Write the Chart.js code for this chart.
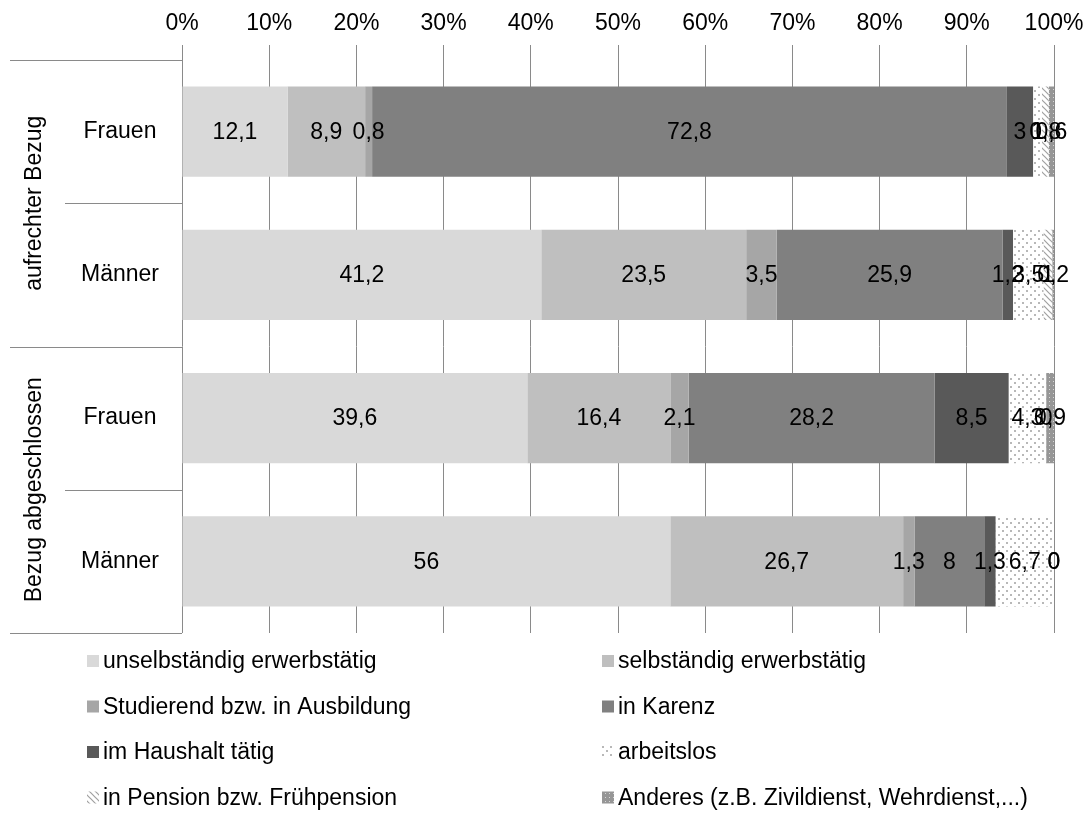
<!DOCTYPE html>
<html>
<head>
<meta charset="utf-8">
<script src="https://cdn.jsdelivr.net/npm/chart.js@4/dist/chart.umd.min.js"></script>
<style>
  body { margin: 0; background: #fff; }
</style>
</head>
<body>
<canvas id="chart" width="1090" height="814"></canvas>
<script>
// categories (grouped two levels)
const groups = ['aufrechter Bezug', 'Bezug abgeschlossen'];
const categories = ['Frauen', 'Männer', 'Frauen', 'Männer'];
const seriesNames = [
  'unselbständig erwerbstätig',
  'selbständig erwerbstätig',
  'Studierend bzw. in Ausbildung',
  'in Karenz',
  'im Haushalt tätig',
  'arbeitslos',
  'in Pension bzw. Frühpension',
  'Anderes (z.B. Zivildienst, Wehrdienst,...)'
];
const unselbstaendig = [12.1, 41.2, 39.6, 56];
const selbstaendig   = [8.9, 23.5, 16.4, 26.7];
const studierend     = [0.8, 3.5, 2.1, 1.3];
const karenz         = [72.8, 25.9, 28.2, 8];
const haushalt       = [3, 1.2, 8.5, 1.3];
const arbeitslos     = [1.0, 3.5, 4.3, 6.7];
const pension        = [0.8, 1.0, 0, 0];
const anderes        = [0.6, 0.2, 0.9, 0];
const tickValues = [0, 10, 20, 30, 40, 50, 60, 70, 80, 90, 100];

const FONT = '"Liberation Sans", Arial, sans-serif';
const FS = 23;
const gridGray = '#8a8a8a';

function makePattern(size, draw) {
  const c = document.createElement('canvas');
  c.width = size; c.height = size;
  draw(c.getContext('2d'), size);
  return c.getContext('2d').createPattern(c, 'repeat');
}

const dotsPattern = makePattern(8, (g) => {
  g.fillStyle = '#fff'; g.fillRect(0, 0, 8, 8);
  g.fillStyle = '#b8b8b8';
  g.fillRect(2, 2, 2, 2);
  g.fillRect(6, 6, 2, 2);
});
const hatchPattern = makePattern(6, (g) => {
  g.fillStyle = '#fff'; g.fillRect(0, 0, 6, 6);
  g.strokeStyle = '#a0a0a0'; g.lineWidth = 1.2;
  g.beginPath();
  g.moveTo(-1, -1); g.lineTo(7, 7);
  g.moveTo(-1, 5); g.lineTo(1, 7);
  g.moveTo(5, -1); g.lineTo(7, 1);
  g.stroke();
});
const grayDotsPattern = makePattern(4, (g) => {
  g.fillStyle = '#969696'; g.fillRect(0, 0, 4, 4);
  g.fillStyle = '#d8d8d8';
  g.fillRect(1, 1, 1, 1);
});

const seriesData = [unselbstaendig, selbstaendig, studierend, karenz, haushalt, arbeitslos, pension, anderes];
const seriesColors = ['#d9d9d9', '#bfbfbf', '#a6a6a6', '#808080', '#595959', dotsPattern, hatchPattern, grayDotsPattern];

// value labels centred in each segment
const valueLabels = {
  id: 'valueLabels',
  afterDatasetsDraw(chart) {
    const ctx = chart.ctx;
    ctx.save();
    ctx.font = FS + 'px ' + FONT;
    ctx.fillStyle = '#000';
    ctx.textAlign = 'center';
    ctx.textBaseline = 'middle';
    chart.data.datasets.forEach((ds, i) => {
      chart.getDatasetMeta(i).data.forEach((bar, j) => {
        const x = (bar.x + bar.base) / 2;
        ctx.fillText(String(ds.data[j]).replace('.', ','), x, bar.y + 1);
      });
    });
    ctx.restore();
  }
};

// two-level category axis on the left
const leftAxis = {
  id: 'leftAxis',
  afterDraw(chart) {
    const ctx = chart.ctx;
    const area = chart.chartArea;
    const y = chart.scales.y;
    const band = (area.bottom - area.top) / categories.length;
    ctx.save();
    ctx.strokeStyle = gridGray;
    ctx.lineWidth = 1;
    for (let k = 0; k <= categories.length; k++) {
      const yy = Math.round(area.top + k * band) + 0.5;
      const x0 = k % 2 === 0 ? 10 : 65;
      ctx.beginPath();
      ctx.moveTo(x0, yy);
      ctx.lineTo(area.left, yy);
      ctx.stroke();
    }
    ctx.font = FS + 'px ' + FONT;
    ctx.fillStyle = '#000';
    ctx.textAlign = 'center';
    ctx.textBaseline = 'middle';
    categories.forEach((c, i) => {
      ctx.fillText(c, 120, y.getPixelForValue(i));
    });
    groups.forEach((g, i) => {
      const cy = area.top + (i * 2 + 1) * band;
      ctx.save();
      ctx.translate(35, cy);
      ctx.rotate(-Math.PI / 2);
      ctx.fillText(g, 0, 0);
      ctx.restore();
    });
    ctx.restore();
  }
};

// legend in two columns below the plot
const legendBox = {
  id: 'legendBox',
  afterDraw(chart) {
    const ctx = chart.ctx;
    ctx.save();
    ctx.font = FS + 'px ' + FONT;
    ctx.textBaseline = 'middle';
    ctx.textAlign = 'left';
    chart.data.datasets.forEach((ds, i) => {
      const col = i % 2, row = Math.floor(i / 2);
      const bx = col === 0 ? 87 : 602;
      const cy = 661 + row * 45.5;
      ctx.fillStyle = ds.backgroundColor;
      ctx.fillRect(bx, cy - 6, 12, 12);
      ctx.fillStyle = '#000';
      ctx.fillText(ds.label, bx + 16, cy + 1);
    });
    ctx.restore();
  }
};

new Chart(document.getElementById('chart'), {
  type: 'bar',
  data: {
    labels: categories,
    datasets: seriesNames.map((name, i) => ({
      label: name,
      data: seriesData[i],
      backgroundColor: seriesColors[i],
      borderWidth: 0,
      categoryPercentage: 1,
      barPercentage: 0.63
    }))
  },
  options: {
    indexAxis: 'y',
    responsive: false,
    animation: false,
    layout: { padding: { left: 182, right: 36, top: 0, bottom: 181 } },
    plugins: {
      legend: { display: false },
      tooltip: { enabled: false }
    },
    scales: {
      x: {
        position: 'top',
        stacked: true,
        min: 0,
        max: 100,
        afterBuildTicks: (s) => { s.ticks = tickValues.map(v => ({ value: v })); },
        afterFit: (s) => { s.height = 60; s.paddingLeft = 0; s.paddingRight = 0; },
        border: { display: false },
        grid: { color: gridGray, tickLength: 15, lineWidth: 1 },
        ticks: {
          color: '#000',
          padding: 8,
          font: { family: FONT, size: FS },
          callback: (v) => v + '%'
        }
      },
      y: {
        stacked: true,
        display: false
      }
    }
  },
  plugins: [valueLabels, leftAxis, legendBox]
});
</script>
</body>
</html>
